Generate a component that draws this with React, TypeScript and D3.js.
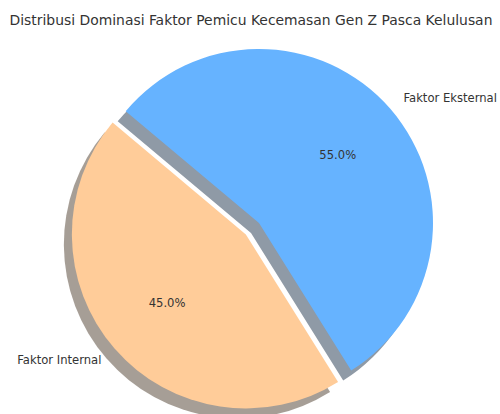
import { useEffect, useRef } from 'react';
import * as d3 from 'd3';

// data
const labels = ['Faktor Internal', 'Faktor Eksternal'];
const values = [45, 55];
const colors = ['#ffcc99', '#66b3ff'];
const explode = [0.1, 0];
const title = 'Distribusi Dominasi Faktor Pemicu Kecemasan Gen Z Pasca Kelulusan';

const width = 500;
const height = 414;

const App = () => {
  const ref = useRef<SVGSVGElement | null>(null);

  useEffect(() => {
    const svg = d3.select(ref.current);
    svg.selectAll('*').remove();

    const cx = 259;
    const cy = 223;
    const radius = 174;
    const shadowDx = -8;
    const shadowDy = 10;
    const font = 'DejaVu Sans, sans-serif';

    // matplotlib style: start at 140deg, counterclockwise
    const start = ((90 - 140) * Math.PI) / 180;
    const pie = d3
      .pie<number>()
      .sort(null)
      .value(d => d)
      .startAngle(start)
      .endAngle(start - 2 * Math.PI);

    const arc = d3.arc<d3.PieArcDatum<number>>().innerRadius(0).outerRadius(radius);
    const arcs = pie(values);

    const offset = (d: d3.PieArcDatum<number>, i: number) => {
      const mid = (d.startAngle + d.endAngle) / 2;
      const r = explode[i] * radius;
      return [Math.sin(mid) * r, -Math.cos(mid) * r];
    };

    const g = svg.append('g').attr('transform', `translate(${cx}, ${cy})`);

    // shadows
    g.selectAll('path.shadow')
      .data(arcs)
      .enter()
      .append('path')
      .attr('class', 'shadow')
      .attr('d', arc)
      .attr('transform', (d, i) => {
        const [ox, oy] = offset(d, i);
        return `translate(${ox + shadowDx}, ${oy + shadowDy})`;
      })
      .attr('fill', (d, i) => {
        const c = d3.rgb(colors[i]);
        return d3.rgb(c.r * 0.3, c.g * 0.3, c.b * 0.3).toString();
      })
      .attr('fill-opacity', 0.5);

    // wedges
    g.selectAll('path.wedge')
      .data(arcs)
      .enter()
      .append('path')
      .attr('class', 'wedge')
      .attr('d', arc)
      .attr('transform', (d, i) => {
        const [ox, oy] = offset(d, i);
        return `translate(${ox}, ${oy})`;
      })
      .attr('fill', (d, i) => colors[i]);

    // labels
    arcs.forEach((d, i) => {
      const mid = (d.startAngle + d.endAngle) / 2;
      const [ox, oy] = offset(d, i);
      const lx = ox + Math.sin(mid) * radius * 1.1;
      const ly = oy - Math.cos(mid) * radius * 1.1;
      g.append('text')
        .attr('x', lx)
        .attr('y', ly)
        .attr('dy', '0.35em')
        .attr('text-anchor', lx > ox ? 'start' : 'end')
        .attr('font-family', font)
        .attr('font-size', 11.6)
        .attr('fill', '#333')
        .text(labels[i]);

      const px = ox + Math.sin(mid) * radius * 0.6;
      const py = oy - Math.cos(mid) * radius * 0.6;
      g.append('text')
        .attr('x', px)
        .attr('y', py)
        .attr('dy', '0.35em')
        .attr('text-anchor', 'middle')
        .attr('font-family', font)
        .attr('font-size', 11.6)
        .attr('fill', '#333')
        .text(`${((values[i] / d3.sum(values)) * 100).toFixed(1)}%`);
    });

    svg
      .append('text')
      .attr('x', 251)
      .attr('y', 25)
      .attr('text-anchor', 'middle')
      .attr('font-family', font)
      .attr('font-size', 13.9)
      .attr('fill', '#333')
      .text(title);
  }, []);

  return (
    <svg
      ref={ref}
      width={width}
      height={height}
      style={{ position: 'absolute', left: 0, top: 0, background: '#fff' }}
    ></svg>
  );
};

export default App;
